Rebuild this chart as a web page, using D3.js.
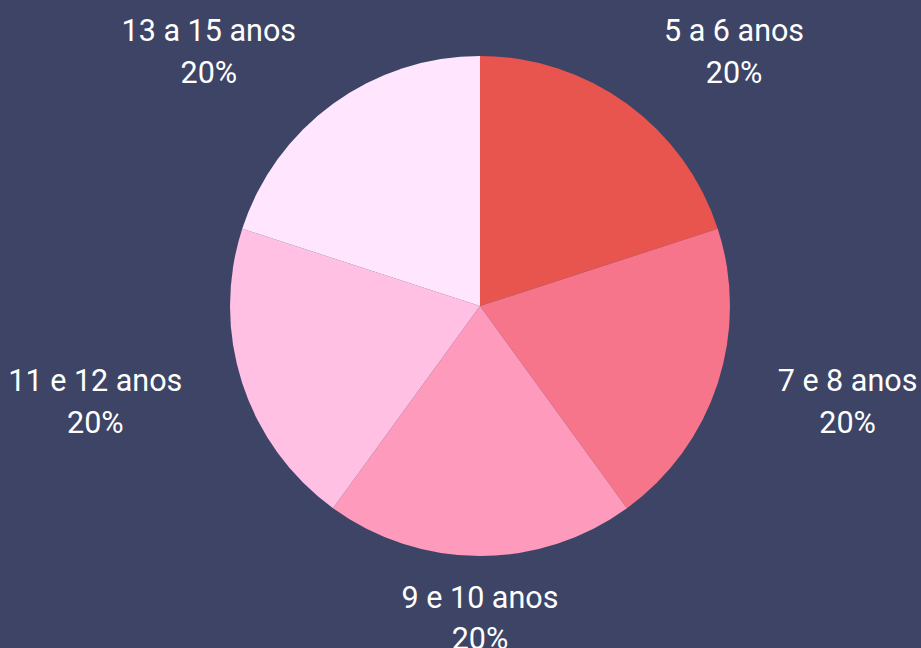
<!DOCTYPE html>
<html>
<head>
<meta charset="utf-8">
<script src="https://cdn.jsdelivr.net/npm/d3@7"></script>
<style>
html,body{margin:0;padding:0;background:#3d4466;}
svg{display:block;}
</style>
</head>
<body>
<svg id="chart" width="921" height="648"></svg>
<script>
const categories = ["5 a 6 anos", "7 e 8 anos", "9 e 10 anos", "11 e 12 anos", "13 a 15 anos"];
const values = [20, 20, 20, 20, 20];
const colors = ["#e8544e", "#f7758b", "#fe9bbd", "#ffc0e3", "#ffe6fe"];

const W = 921, H = 648;
const cx = 480, cy = 306, R = 250, labelR = 313;
const svg = d3.select("#chart");
svg.append("rect").attr("width", W).attr("height", H).attr("fill", "#3d4466");

const total = d3.sum(values);
const data = categories.map((c, i) => ({ name: c, value: values[i], color: colors[i] }));
const pie = d3.pie().value(d => d.value).sort(null);
const arc = d3.arc().innerRadius(0).outerRadius(R);
const arcs = pie(data);

const g = svg.append("g").attr("transform", `translate(${cx},${cy})`);
g.selectAll("path").data(arcs).enter().append("path")
  .attr("d", arc)
  .attr("fill", d => d.data.color);

const fmt = d3.format(".0%");
const lg = g.append("g").attr("font-family", "Roboto, sans-serif").attr("font-size", 30.5).attr("fill", "#ffffff");
arcs.forEach(a => {
  const mid = (a.startAngle + a.endAngle) / 2;
  const px = labelR * Math.sin(mid);
  const py = -labelR * Math.cos(mid) - 1.5;
  const t = lg.append("text").attr("text-anchor", "middle");
  const l1 = t.append("tspan").attr("y", py - 20.8).attr("dy", "0.355em").text(a.data.name);
  const l2 = t.append("tspan").attr("y", py + 20.8).attr("dy", "0.355em").text(fmt(a.data.value / total));
  const w = Math.max(l1.node().getComputedTextLength(), l2.node().getComputedTextLength());
  let x;
  if (Math.abs(px) < 1) x = px;
  else if (px > 0) x = px + w / 2;
  else x = px - w / 2;
  l1.attr("x", x); l2.attr("x", x);
});
</script>
</body>
</html>
